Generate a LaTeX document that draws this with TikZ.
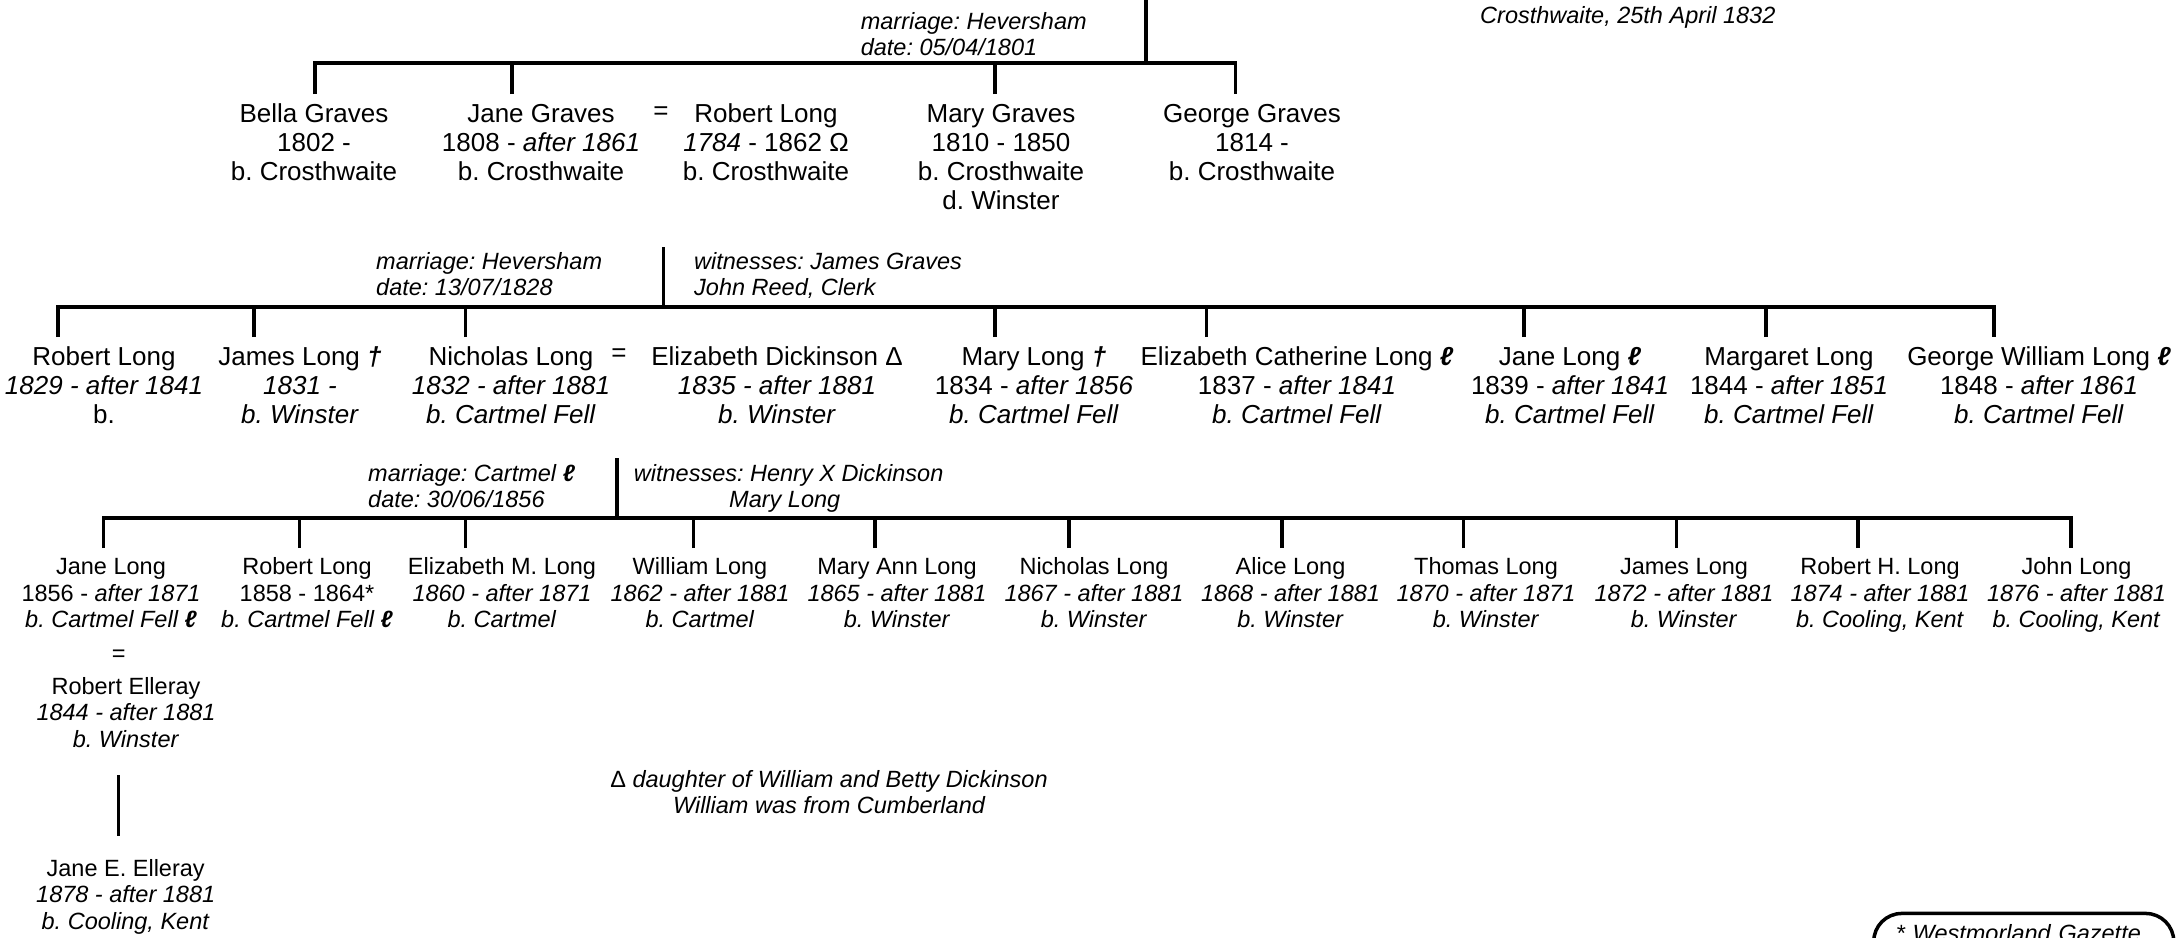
\documentclass[tikz,border=0pt]{standalone}
\usepackage{fontspec}
\setmainfont{Liberation Sans}
\usetikzlibrary{calc}
\frenchspacing
\newcommand\fA{\fontsize{26}{29}\selectfont}
\newcommand\fB{\fontsize{23.5}{26.5}\selectfont}
\newcommand\fN{\fontsize{23.5}{26}\selectfont\itshape}
\newcommand\perstext[3]{\strut #1\\\strut #2\\\strut #3}
\newcommand\dagsym{\textbf{\textit{†}}}
\newcommand\ellsym{\textbf{\textit{ℓ}}}
\tikzset{
  conn/.style={line width=3.3pt},
  pA/.style={anchor=north, align=center, inner sep=0pt, outer ysep=8pt, font=\fA},
  pB/.style={anchor=north, align=center, inner sep=0pt, outer ysep=8pt, font=\fB},
  eqA/.style={inner sep=0pt, font=\fA},
  eqB/.style={inner sep=0pt, font=\fB},
  note/.style={anchor=north west, align=left, inner sep=0pt, font=\fN},
  gazbox/.style={draw, line width=3.5pt, rounded corners=28pt, anchor=north west,
    inner xsep=22pt, inner ysep=10pt, text width=256pt, align=left, text depth=70pt, font=\fN},
}
\begin{document}
\begin{tikzpicture}[x=1pt,y=-1pt]
\useasboundingbox (0,0) rectangle (2179,937);
\clip (0,0) rectangle (2179,937);

% ---------- generation 1 ----------
\node[pA] (bella) at (314,94) {\perstext{Bella Graves}{1802 -}{b. Crosthwaite}};
\node[pA] (janeg) at (541,94) {\perstext{Jane Graves}{1808 - \textit{after 1861}}{b. Crosthwaite}};
\node[eqA] (eq1) at (661,113) {=};
\node[pA] (robertl) at (766,94) {\perstext{Robert Long}{\textit{1784} - 1862 Ω}{b. Crosthwaite}};
\node[pA] (maryg) at (1001,94) {\strut Mary Graves\\\strut 1810 - 1850\\\strut b. Crosthwaite\\\strut d. Winster};
\node[pA] (georgeg) at (1252,94) {\perstext{George Graves}{1814 -}{b. Crosthwaite}};

\node[note] (mar1) at (860.6,11) {\strut marriage: Heversham\\\strut date: 05/04/1801};
\node[note] (bapt) at (1480,5.2) {\strut Crosthwaite, 25th April 1832};

\coordinate (par1) at (1146,-5);
\draw[conn] (par1) -- ++(0,68);
\draw[conn] ([xshift=1pt]bella.north) -- ++(0,-31) -| ([xshift=-16.5pt]georgeg.north);
\draw[conn] ([xshift=-29pt]janeg.north) -- ++(0,-31);
\draw[conn] ([xshift=-6pt]maryg.north) -- ++(0,-31);

% ---------- generation 2 ----------
\node[pA] (rlong2) at (104,337) {\perstext{Robert Long}{\textit{1829 - after 1841}}{b.}};
\node[pA] (jlong2) at (300,337) {\perstext{James Long \dagsym}{\textit{1831 -}}{\textit{b. Winster}}};
\node[pA] (nlong2) at (511,337) {\perstext{Nicholas Long}{\textit{1832 - after 1881}}{\textit{b. Cartmel Fell}}};
\node[eqA] (eq2) at (619,355) {=};
\node[pA] (edick2) at (777,337) {\perstext{Elizabeth Dickinson Δ}{\textit{1835 - after 1881}}{\textit{b. Winster}}};
\node[pA] (mlong2) at (1034,337) {\perstext{Mary Long \dagsym}{1834 - \textit{after 1856}}{\textit{b. Cartmel Fell}}};
\node[pA] (ecl2) at (1297,337) {\perstext{Elizabeth Catherine Long \ellsym}{1837 - \textit{after 1841}}{\textit{b. Cartmel Fell}}};
\node[pA] (jl2) at (1570,337) {\perstext{Jane Long \ellsym}{1839 - \textit{after 1841}}{\textit{b. Cartmel Fell}}};
\node[pA] (ml2) at (1789,337) {\perstext{Margaret Long}{1844 - \textit{after 1851}}{\textit{b. Cartmel Fell}}};
\node[pA] (gwl2) at (2039,337) {\perstext{George William Long \ellsym}{1848 - \textit{after 1861}}{\textit{b. Cartmel Fell}}};

\node[note] (mar2) at (376,251.5) {\strut marriage: Heversham\\\strut date: 13/07/1828};
\node[note] (wit2) at (694,251.5) {\strut witnesses: James Graves\\\strut John Reed, Clerk};

\coordinate (par2) at (663.5,247);
\draw[conn] (par2) -- ++(0,60);
\draw[conn] ([xshift=-46pt]rlong2.north) -- ++(0,-30) -| ([xshift=-45pt]gwl2.north);
\draw[conn] ([xshift=-46pt]jlong2.north) -- ++(0,-30);
\draw[conn] ([xshift=-45.4pt]nlong2.north) -- ++(0,-30);
\draw[conn] ([xshift=-39pt]mlong2.north) -- ++(0,-30);
\draw[conn] ([xshift=-90.4pt]ecl2.north) -- ++(0,-30);
\draw[conn] ([xshift=-46pt]jl2.north) -- ++(0,-30);
\draw[conn] ([xshift=-23pt]ml2.north) -- ++(0,-30);

% ---------- generation 3 ----------
\node[pB] (jl3) at (111,548) {\perstext{Jane Long}{1856 - \textit{after 1871}}{\textit{b. Cartmel Fell \ellsym}}};
\node[pB] (rl3) at (307,548) {\perstext{Robert Long}{1858 - 1864*}{\textit{b. Cartmel Fell \ellsym}}};
\node[pB] (eml3) at (502,548) {\perstext{Elizabeth M. Long}{\textit{1860 - after 1871}}{\textit{b. Cartmel}}};
\node[pB] (wl3) at (700,548) {\perstext{William Long}{\textit{1862 - after 1881}}{\textit{b. Cartmel}}};
\node[pB] (mal3) at (897,548) {\perstext{Mary Ann Long}{\textit{1865 - after 1881}}{\textit{b. Winster}}};
\node[pB] (nl3) at (1094,548) {\perstext{Nicholas Long}{\textit{1867 - after 1881}}{\textit{b. Winster}}};
\node[pB] (al3) at (1290.5,548) {\perstext{Alice Long}{\textit{1868 - after 1881}}{\textit{b. Winster}}};
\node[pB] (tl3) at (1486,548) {\perstext{Thomas Long}{\textit{1870 - after 1871}}{\textit{b. Winster}}};
\node[pB] (jml3) at (1684,548) {\perstext{James Long}{\textit{1872 - after 1881}}{\textit{b. Winster}}};
\node[pB] (rhl3) at (1880,548) {\perstext{Robert H. Long}{\textit{1874 - after 1881}}{\textit{b. Cooling, Kent}}};
\node[pB] (jnl3) at (2076.5,548) {\perstext{John Long}{\textit{1876 - after 1881}}{\textit{b. Cooling, Kent}}};

\node[note] (mar3) at (368,463.2) {\strut marriage: Cartmel \ellsym\\\strut date: 30/06/1856};
\node[note] (wit3) at (633.7,463.2) {\strut witnesses: Henry X Dickinson\\\strut\hspace*{95.3pt}Mary Long};

\coordinate (par3) at (617,458);
\draw[conn] (par3) -- ++(0,60);
\draw[conn] ([xshift=-7.6pt]jl3.north) -- ++(0,-30) -| ([xshift=-5.5pt]jnl3.north);
\draw[conn] ([xshift=-7.6pt]rl3.north) -- ++(0,-30);
\draw[conn] ([xshift=-36.4pt]eml3.north) -- ++(0,-30);
\draw[conn] ([xshift=-6.3pt]wl3.north) -- ++(0,-30);
\draw[conn] ([xshift=-22pt]mal3.north) -- ++(0,-30);
\draw[conn] ([xshift=-25pt]nl3.north) -- ++(0,-30);
\draw[conn] ([xshift=-8.5pt]al3.north) -- ++(0,-30);
\draw[conn] ([xshift=-22.5pt]tl3.north) -- ++(0,-30);
\draw[conn] ([xshift=-7.2pt]jml3.north) -- ++(0,-30);
\draw[conn] ([xshift=-22pt]rhl3.north) -- ++(0,-30);

% ---------- Jane Long = Robert Elleray ----------
\node[eqB] (eq3) at (118.7,656) {=};
\node[pB] (relleray) at (126,667.85) {\perstext{Robert Elleray}{\textit{1844 - after 1881}}{\textit{b. Winster}}};
\node[pB] (janee) at (125.7,849.85) {\perstext{Jane E. Elleray}{\textit{1878 - after 1881}}{\textit{b. Cooling, Kent}}};
\draw[conn] ($(relleray.south -| eq3)+(0,11.65)$) -- ($(janee.north -| eq3)+(0,-13.85)$);

% ---------- notes ----------
\node[anchor=north, align=center, inner sep=0pt, font=\fN] (fn) at (829,769.2)
  {\strut{\upshape Δ} daughter of William and Betty Dickinson\\\strut William was from Cumberland};
\node[gazbox] (gaz) at (1872,911.7) {\strut * Westmorland Gazette};
\end{tikzpicture}
\end{document}
